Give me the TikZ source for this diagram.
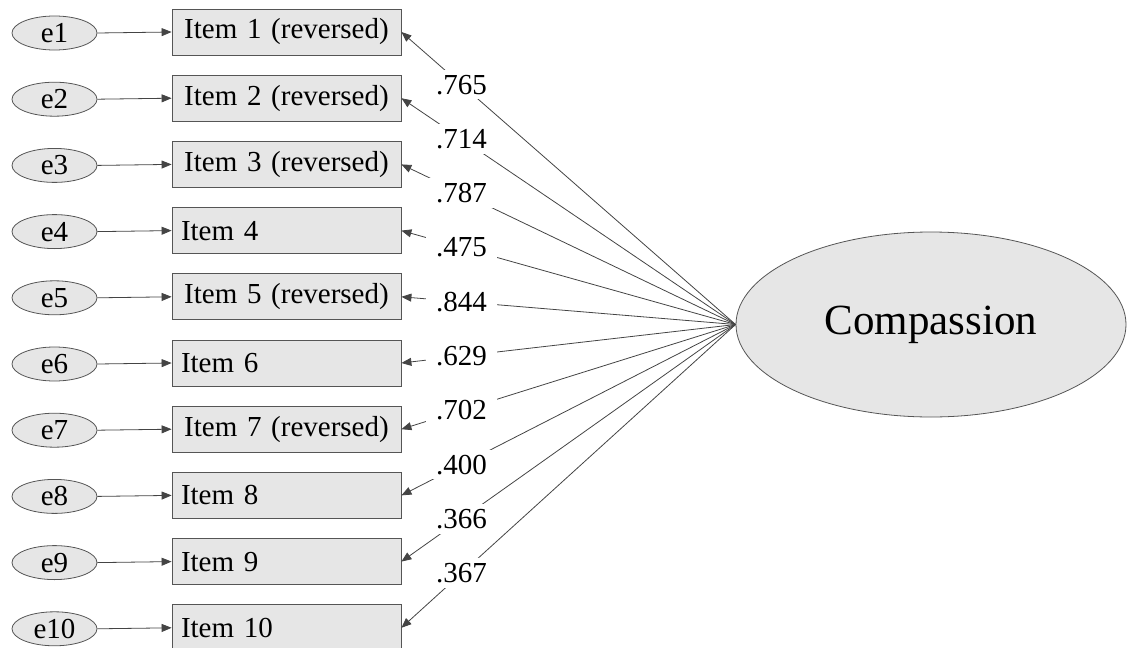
\documentclass[tikz,border=0pt]{standalone}
\usepackage{fontspec}
\setmainfont{Liberation Serif}
\usetikzlibrary{arrows.meta,shapes.geometric}
\definecolor{gf}{HTML}{E6E6E6}
\definecolor{bd}{HTML}{555555}
\definecolor{ln}{HTML}{444444}
\begin{document}
\begin{tikzpicture}[x=1pt,y=-1pt,
  font=\fontsize{29}{34}\selectfont,
  err/.style={ellipse, draw=bd, fill=gf, line width=0.8pt, minimum width=85pt, minimum height=34pt, inner sep=0pt},
  item/.style={rectangle, draw=bd, fill=gf, line width=0.8pt, minimum height=46pt, text width=211pt, inner xsep=9pt, inner ysep=0pt, align=left},
  itemrev/.style={item, align=center},
  lat/.style={ellipse, draw=bd, fill=gf, line width=0.8pt, minimum width=390pt, minimum height=185pt, inner sep=0pt, font=\fontsize{43}{50}\selectfont},
  conn/.style={draw=ln, line width=0.8pt, -{Triangle[length=10pt,width=8pt]}},
  lbl/.style={fill=white, inner xsep=10pt, inner ysep=5pt, pos=0.82}]
\useasboundingbox (0,0) rectangle (1128,648);
\node[lat] (comp) at (931,324.5) {Compassion};
\foreach \i/\t/\s/\l in {1/Item 1 (reversed)/itemrev/.765,
                         2/Item 2 (reversed)/itemrev/.714,
                         3/Item 3 (reversed)/itemrev/.787,
                         4/Item 4/item/.475,
                         5/Item 5 (reversed)/itemrev/.844,
                         6/Item 6/item/.629,
                         7/Item 7 (reversed)/itemrev/.702,
                         8/Item 8/item/.400,
                         9/Item 9/item/.366,
                         10/Item 10/item/.367}{
  \node[err] (e\i) at (54.5,{33+66.2*(\i-1)}) {e\i};
  \node[\s] (i\i) at (286.5,{32+66.2*(\i-1)}) {\t};
  \draw[conn] (e\i.east) -- (i\i.west);
  \draw[conn] (comp.west) -- node[lbl] {\l} (i\i.east);
}
\end{tikzpicture}
\end{document}
